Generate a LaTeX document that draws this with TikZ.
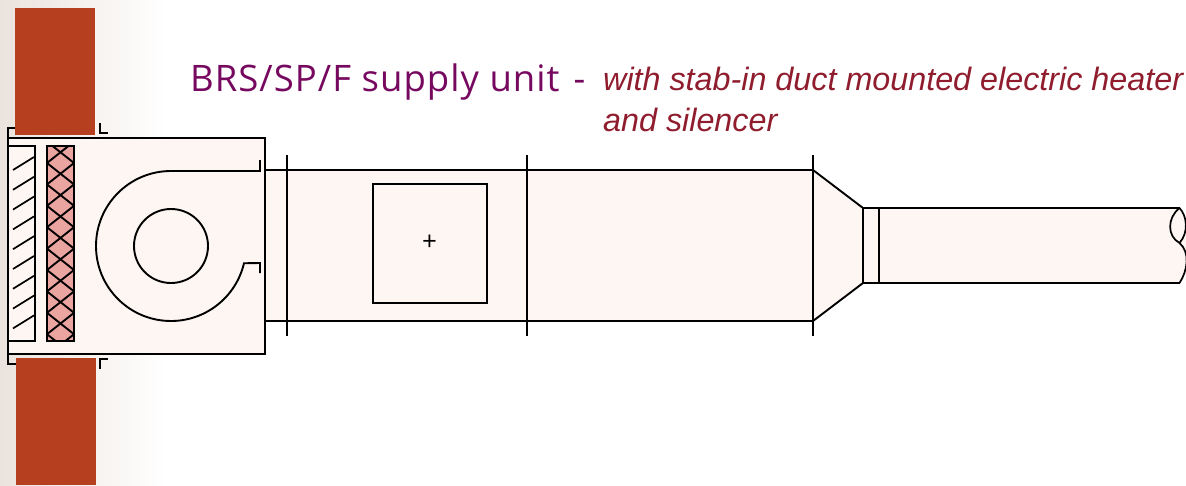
\documentclass[tikz,border=0pt]{standalone}
\usepackage{fontspec}
\setmainfont{Open Sans}
\newfontfamily\titlefont[LetterSpace=2.8]{Open Sans}
\newfontfamily\subfont{Liberation Sans}
\definecolor{brick}{HTML}{B53F1E}
\definecolor{casing}{HTML}{FEF6F3}
\definecolor{filterpink}{HTML}{EBA5A0}
\definecolor{wallshade}{HTML}{EBE3DD}
\definecolor{titlecol}{HTML}{76095F}
\definecolor{subcol}{HTML}{8F1D2E}
\tikzset{
  part/.style = {draw=black, line width=1.9pt, fill=casing},
  wire/.style = {draw=black, line width=1.9pt},
  thin wire/.style = {draw=black, line width=1.7pt},
  wall/.style = {fill=brick, draw=none},
  subline/.style = {anchor=base west, inner sep=0pt, text=subcol, font=\subfont\fontsize{32.3}{32.3}\selectfont\itshape}
}

\begin{document}
\begin{tikzpicture}[x=1pt,y=-1pt]
    \useasboundingbox (0,0) rectangle (1186,485);

    % Wall shade
    \fill[left color=wallshade, right color=white, draw=none] (0,0) rectangle (165,485);
    \fill[wall] (15,8) rectangle (95,135);
    \fill[wall] (16,358) rectangle (96,485);

    % Title
    \node[anchor=base west, inner sep=0pt, text=titlecol, font=\titlefont\fontsize{36.5}{36.5}\selectfont] (title) at (190,91) {BRS/SP/F supply unit\hspace{14pt}-};
    \node[subline] (subone) at (603,90) {with stab-in duct mounted electric heater};
    \node[subline] (subtwo) at (603,131) {and silencer};

    % Duct
    \path[part] (265,170) rectangle (813,321);
    \path[part] (813,170) -- (863,208) -- (863,283) -- (813,321) -- cycle;
    \path[fill=casing] (863,208) -- (1179.5,208) .. controls (1192,226) and (1192,262) .. (1179.5,283) -- (863,283) -- cycle;
    \draw[wire] (1179.5,283) -- (863,283) -- (863,208) -- (1179.5,208);
    \draw[wire] (879,208) -- (879,283);

    % Flanges
    \foreach \fx in {287,527,813}
      \draw[wire] (\fx,155) -- (\fx,336);

    % Access panel
    \draw[wire] (373,184) rectangle (487,303);
    \node[inner sep=0pt, font=\fontsize{26}{26}\selectfont] (plus) at (429.5,242.5) {+};

    % Duct end
    \draw[thin wire] (1179.5,208) .. controls (1187,216) and (1189,232) .. (1179.5,243);
    \draw[thin wire] (1179.5,208) .. controls (1167,218) and (1167,236) .. (1179.5,243) .. controls (1190,252) and (1188,270) .. (1179.5,283);

    % Unit casing
    \path[part] (8,138) rectangle (265,354);
    \draw[line width=2.6pt] (8,138) -- (8,354);
    \draw[thin wire] (8,138) -- (8,128) -- (15,128);
    \draw[thin wire] (8,354) -- (8,364) -- (16,364);
    \draw[thin wire] (100,123) -- (100,133) -- (108,133);
    \draw[thin wire] (100,369) -- (100,359) -- (108,359);

    % Louvre
    \draw[wire] (9,146) -- (35,146) -- (35,341) -- (9,341);
    \foreach \i in {0,...,8}
      \draw[thin wire] (13,170+19.8*\i) -- (34,157+19.8*\i);

    % Filter
    \fill[filterpink] (47,146) rectangle (74,341);
    \begin{scope}
      \clip (47,146) rectangle (74,341);
      \foreach \i in {-1,...,10} {
        \draw[wire] (47,163+21.4*\i) -- (74,141.6+21.4*\i);
        \draw[wire] (47,141.6+21.4*\i) -- (74,163+21.4*\i);
      }
    \end{scope}
    \draw[wire] (47,146) rectangle (74,341);

    % Fan
    \draw[wire] (171,246) circle[radius=37];
    \draw[wire] (260,160) -- (260,171) -- (171,171) arc[start angle=270, end angle=13.3, radius=75] -- (260,263) -- (260,273);
\end{tikzpicture}
\end{document}
